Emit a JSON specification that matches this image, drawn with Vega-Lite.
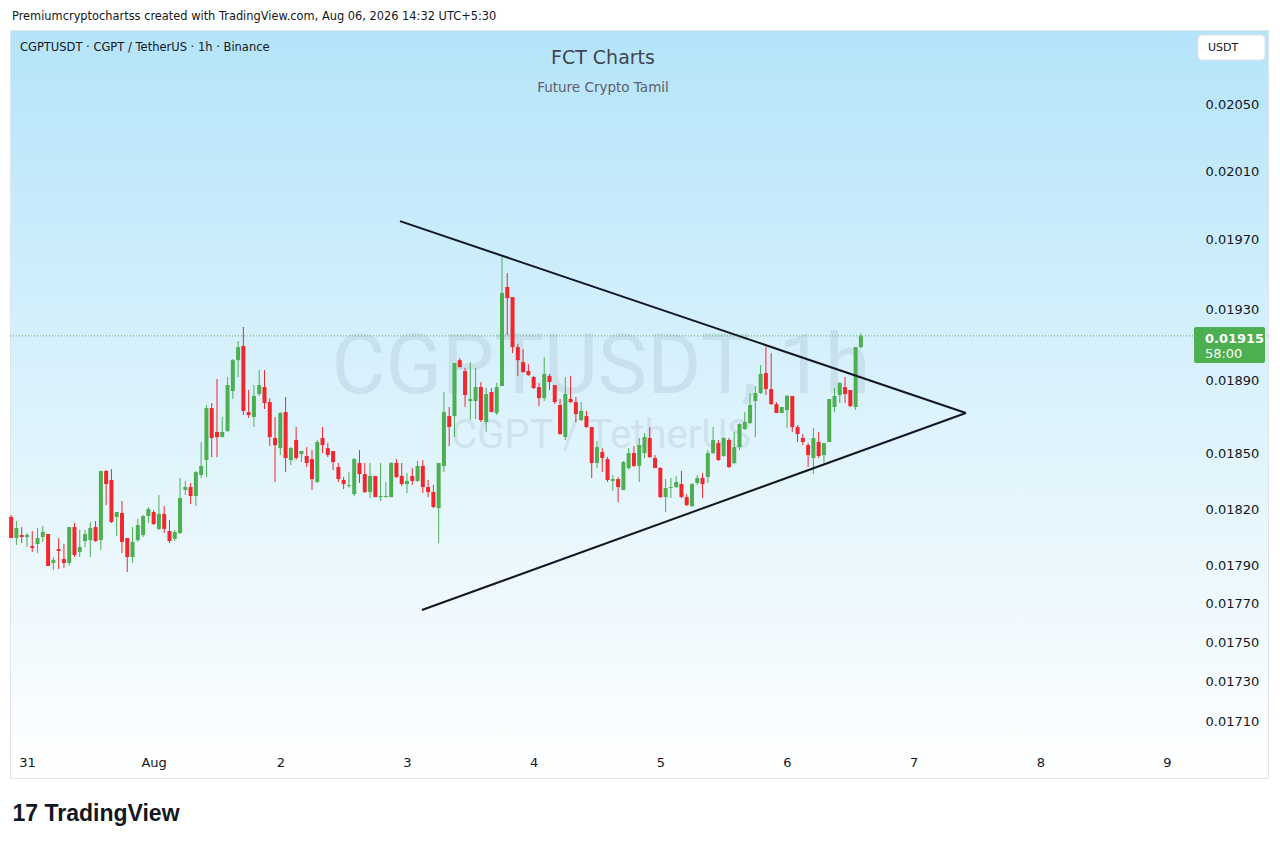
{
  "$schema": "https://vega.github.io/schema/vega-lite/v6.json",
  "description": "CGPTUSDT 1h candles with a symmetrical triangle, TradingView style.",
  "width": 1258,
  "height": 748,
  "autosize": "none",
  "padding": {"left": 10, "top": 30, "right": 12, "bottom": 67},
  "background": "#ffffff",
  "config": {
    "font": "DejaVu Sans",
    "view": {
      "stroke": "#e0e3eb",
      "strokeWidth": 1,
      "fill": {
        "gradient": "linear", "x1": 0, "y1": 0, "x2": 0, "y2": 1,
        "stops": [
          {"offset": 0, "color": "#b4e4fa"},
          {"offset": 0.45, "color": "#d8f1fc"},
          {"offset": 1, "color": "#ffffff"}
        ]
      }
    },
    "axis": {
      "ticks": false, "tickSize": 0, "domain": false, "grid": false,
      "labelFont": "DejaVu Sans", "labelFontSize": 13, "labelColor": "#131722",
      "labelOverlap": false, "labelFlush": false
    }
  },
  "title": {
    "text": "Premiumcryptochartss created with TradingView.com, Aug 06, 2026 14:32 UTC+5:30",
    "anchor": "start",
    "frame": "group",
    "offset": 8,
    "dx": 2,
    "font": "DejaVu Sans",
    "fontSize": 11.4,
    "fontWeight": "normal",
    "color": "#131722"
  },
  "datasets": {
    "candles": [
      {"t": "2026-07-30T21:00", "o": 0.018158, "h": 0.018168, "l": 0.018046, "c": 0.018046},
      {"t": "2026-07-30T22:00", "o": 0.018046, "h": 0.018136, "l": 0.018009, "c": 0.018099},
      {"t": "2026-07-30T23:00", "o": 0.018062, "h": 0.018104, "l": 0.018019, "c": 0.018051},
      {"t": "2026-07-31T00:00", "o": 0.018051, "h": 0.018072, "l": 0.017998, "c": 0.018062},
      {"t": "2026-07-31T01:00", "o": 0.018003, "h": 0.018083, "l": 0.017972, "c": 0.017993},
      {"t": "2026-07-31T02:00", "o": 0.018014, "h": 0.018099, "l": 0.017966, "c": 0.018046},
      {"t": "2026-07-31T03:00", "o": 0.018051, "h": 0.018110, "l": 0.018025, "c": 0.018078},
      {"t": "2026-07-31T04:00", "o": 0.018067, "h": 0.018067, "l": 0.017898, "c": 0.017898},
      {"t": "2026-07-31T05:00", "o": 0.017914, "h": 0.017945, "l": 0.017877, "c": 0.017930},
      {"t": "2026-07-31T06:00", "o": 0.017987, "h": 0.018046, "l": 0.017882, "c": 0.017977},
      {"t": "2026-07-31T07:00", "o": 0.017935, "h": 0.018014, "l": 0.017888, "c": 0.017914},
      {"t": "2026-07-31T08:00", "o": 0.017914, "h": 0.018104, "l": 0.017898, "c": 0.018104},
      {"t": "2026-07-31T09:00", "o": 0.018104, "h": 0.018126, "l": 0.017945, "c": 0.017956},
      {"t": "2026-07-31T10:00", "o": 0.017972, "h": 0.018088, "l": 0.017945, "c": 0.017998},
      {"t": "2026-07-31T11:00", "o": 0.018030, "h": 0.018088, "l": 0.017998, "c": 0.018067},
      {"t": "2026-07-31T12:00", "o": 0.018035, "h": 0.018131, "l": 0.017945, "c": 0.018099},
      {"t": "2026-07-31T13:00", "o": 0.018104, "h": 0.018136, "l": 0.018025, "c": 0.018030},
      {"t": "2026-07-31T14:00", "o": 0.018035, "h": 0.018405, "l": 0.017982, "c": 0.018405},
      {"t": "2026-07-31T15:00", "o": 0.018405, "h": 0.018410, "l": 0.018221, "c": 0.018334},
      {"t": "2026-07-31T16:00", "o": 0.018356, "h": 0.018415, "l": 0.018126, "c": 0.018131},
      {"t": "2026-07-31T17:00", "o": 0.018158, "h": 0.018184, "l": 0.018056, "c": 0.018184},
      {"t": "2026-07-31T18:00", "o": 0.018179, "h": 0.018243, "l": 0.017966, "c": 0.018025},
      {"t": "2026-07-31T19:00", "o": 0.018046, "h": 0.018046, "l": 0.017867, "c": 0.017945},
      {"t": "2026-07-31T20:00", "o": 0.017945, "h": 0.018104, "l": 0.017914, "c": 0.018025},
      {"t": "2026-07-31T21:00", "o": 0.018035, "h": 0.018147, "l": 0.018025, "c": 0.018115},
      {"t": "2026-07-31T22:00", "o": 0.018062, "h": 0.018168, "l": 0.018051, "c": 0.018163},
      {"t": "2026-07-31T23:00", "o": 0.018163, "h": 0.018211, "l": 0.018126, "c": 0.018200},
      {"t": "2026-08-01T00:00", "o": 0.018184, "h": 0.018195, "l": 0.018115, "c": 0.018120},
      {"t": "2026-08-01T01:00", "o": 0.018094, "h": 0.018275, "l": 0.018088, "c": 0.018174},
      {"t": "2026-08-01T02:00", "o": 0.018174, "h": 0.018216, "l": 0.018072, "c": 0.018094},
      {"t": "2026-08-01T03:00", "o": 0.018083, "h": 0.018142, "l": 0.018019, "c": 0.018030},
      {"t": "2026-08-01T04:00", "o": 0.018041, "h": 0.018088, "l": 0.018030, "c": 0.018078},
      {"t": "2026-08-01T05:00", "o": 0.018072, "h": 0.018367, "l": 0.018067, "c": 0.018259},
      {"t": "2026-08-01T06:00", "o": 0.018302, "h": 0.018351, "l": 0.018275, "c": 0.018318},
      {"t": "2026-08-01T07:00", "o": 0.018318, "h": 0.018340, "l": 0.018227, "c": 0.018270},
      {"t": "2026-08-01T08:00", "o": 0.018270, "h": 0.018405, "l": 0.018216, "c": 0.018399},
      {"t": "2026-08-01T09:00", "o": 0.018383, "h": 0.018562, "l": 0.018367, "c": 0.018432},
      {"t": "2026-08-01T10:00", "o": 0.018464, "h": 0.018765, "l": 0.018372, "c": 0.018748},
      {"t": "2026-08-01T11:00", "o": 0.018748, "h": 0.018776, "l": 0.018480, "c": 0.018584},
      {"t": "2026-08-01T12:00", "o": 0.018617, "h": 0.018909, "l": 0.018480, "c": 0.018589},
      {"t": "2026-08-01T13:00", "o": 0.018589, "h": 0.018699, "l": 0.018589, "c": 0.018617},
      {"t": "2026-08-01T14:00", "o": 0.018622, "h": 0.018920, "l": 0.018617, "c": 0.018875},
      {"t": "2026-08-01T15:00", "o": 0.018842, "h": 0.019020, "l": 0.018798, "c": 0.019014},
      {"t": "2026-08-01T16:00", "o": 0.019014, "h": 0.019121, "l": 0.018920, "c": 0.019087},
      {"t": "2026-08-01T17:00", "o": 0.019093, "h": 0.019200, "l": 0.018710, "c": 0.018732},
      {"t": "2026-08-01T18:00", "o": 0.018726, "h": 0.018848, "l": 0.018693, "c": 0.018710},
      {"t": "2026-08-01T19:00", "o": 0.018699, "h": 0.018875, "l": 0.018644, "c": 0.018815},
      {"t": "2026-08-01T20:00", "o": 0.018826, "h": 0.018959, "l": 0.018815, "c": 0.018875},
      {"t": "2026-08-01T21:00", "o": 0.018864, "h": 0.018959, "l": 0.018743, "c": 0.018776},
      {"t": "2026-08-01T22:00", "o": 0.018781, "h": 0.018803, "l": 0.018540, "c": 0.018589},
      {"t": "2026-08-01T23:00", "o": 0.018584, "h": 0.018699, "l": 0.018345, "c": 0.018545},
      {"t": "2026-08-02T00:00", "o": 0.018529, "h": 0.018726, "l": 0.018491, "c": 0.018721},
      {"t": "2026-08-02T01:00", "o": 0.018726, "h": 0.018809, "l": 0.018399, "c": 0.018475},
      {"t": "2026-08-02T02:00", "o": 0.018464, "h": 0.018534, "l": 0.018437, "c": 0.018529},
      {"t": "2026-08-02T03:00", "o": 0.018573, "h": 0.018644, "l": 0.018464, "c": 0.018475},
      {"t": "2026-08-02T04:00", "o": 0.018496, "h": 0.018513, "l": 0.018453, "c": 0.018513},
      {"t": "2026-08-02T05:00", "o": 0.018486, "h": 0.018534, "l": 0.018426, "c": 0.018448},
      {"t": "2026-08-02T06:00", "o": 0.018469, "h": 0.018518, "l": 0.018302, "c": 0.018361},
      {"t": "2026-08-02T07:00", "o": 0.018345, "h": 0.018573, "l": 0.018340, "c": 0.018562},
      {"t": "2026-08-02T08:00", "o": 0.018584, "h": 0.018644, "l": 0.018502, "c": 0.018545},
      {"t": "2026-08-02T09:00", "o": 0.018529, "h": 0.018556, "l": 0.018480, "c": 0.018491},
      {"t": "2026-08-02T10:00", "o": 0.018513, "h": 0.018513, "l": 0.018410, "c": 0.018453},
      {"t": "2026-08-02T11:00", "o": 0.018426, "h": 0.018448, "l": 0.018345, "c": 0.018361},
      {"t": "2026-08-02T12:00", "o": 0.018356, "h": 0.018372, "l": 0.018307, "c": 0.018334},
      {"t": "2026-08-02T13:00", "o": 0.018324, "h": 0.018399, "l": 0.018313, "c": 0.018329},
      {"t": "2026-08-02T14:00", "o": 0.018280, "h": 0.018475, "l": 0.018270, "c": 0.018469},
      {"t": "2026-08-02T15:00", "o": 0.018448, "h": 0.018518, "l": 0.018340, "c": 0.018388},
      {"t": "2026-08-02T16:00", "o": 0.018388, "h": 0.018448, "l": 0.018286, "c": 0.018291},
      {"t": "2026-08-02T17:00", "o": 0.018291, "h": 0.018448, "l": 0.018259, "c": 0.018378},
      {"t": "2026-08-02T18:00", "o": 0.018378, "h": 0.018378, "l": 0.018264, "c": 0.018264},
      {"t": "2026-08-02T19:00", "o": 0.018264, "h": 0.018448, "l": 0.018243, "c": 0.018270},
      {"t": "2026-08-02T20:00", "o": 0.018264, "h": 0.018345, "l": 0.018264, "c": 0.018270},
      {"t": "2026-08-02T21:00", "o": 0.018264, "h": 0.018453, "l": 0.018264, "c": 0.018448},
      {"t": "2026-08-02T22:00", "o": 0.018448, "h": 0.018469, "l": 0.018367, "c": 0.018372},
      {"t": "2026-08-02T23:00", "o": 0.018378, "h": 0.018448, "l": 0.018324, "c": 0.018334},
      {"t": "2026-08-03T00:00", "o": 0.018334, "h": 0.018394, "l": 0.018286, "c": 0.018351},
      {"t": "2026-08-03T01:00", "o": 0.018378, "h": 0.018421, "l": 0.018329, "c": 0.018351},
      {"t": "2026-08-03T02:00", "o": 0.018351, "h": 0.018459, "l": 0.018345, "c": 0.018432},
      {"t": "2026-08-03T03:00", "o": 0.018432, "h": 0.018464, "l": 0.018286, "c": 0.018318},
      {"t": "2026-08-03T04:00", "o": 0.018318, "h": 0.018356, "l": 0.018264, "c": 0.018291},
      {"t": "2026-08-03T05:00", "o": 0.018291, "h": 0.018329, "l": 0.018205, "c": 0.018211},
      {"t": "2026-08-03T06:00", "o": 0.018205, "h": 0.018448, "l": 0.018019, "c": 0.018448},
      {"t": "2026-08-03T07:00", "o": 0.018432, "h": 0.018837, "l": 0.018399, "c": 0.018726},
      {"t": "2026-08-03T08:00", "o": 0.018704, "h": 0.018754, "l": 0.018540, "c": 0.018644},
      {"t": "2026-08-03T09:00", "o": 0.018704, "h": 0.018998, "l": 0.018589, "c": 0.018998},
      {"t": "2026-08-03T10:00", "o": 0.019014, "h": 0.019025, "l": 0.018975, "c": 0.018975},
      {"t": "2026-08-03T11:00", "o": 0.018953, "h": 0.018970, "l": 0.018754, "c": 0.018820},
      {"t": "2026-08-03T12:00", "o": 0.018787, "h": 0.019003, "l": 0.018682, "c": 0.018798},
      {"t": "2026-08-03T13:00", "o": 0.018787, "h": 0.018970, "l": 0.018688, "c": 0.018864},
      {"t": "2026-08-03T14:00", "o": 0.018864, "h": 0.018892, "l": 0.018671, "c": 0.018682},
      {"t": "2026-08-03T15:00", "o": 0.018671, "h": 0.018859, "l": 0.018617, "c": 0.018826},
      {"t": "2026-08-03T16:00", "o": 0.018837, "h": 0.018859, "l": 0.018726, "c": 0.018726},
      {"t": "2026-08-03T17:00", "o": 0.018721, "h": 0.018887, "l": 0.018710, "c": 0.018864},
      {"t": "2026-08-03T18:00", "o": 0.018870, "h": 0.019599, "l": 0.018870, "c": 0.019393},
      {"t": "2026-08-03T19:00", "o": 0.019427, "h": 0.019507, "l": 0.019155, "c": 0.019364},
      {"t": "2026-08-03T20:00", "o": 0.019370, "h": 0.019370, "l": 0.019053, "c": 0.019087},
      {"t": "2026-08-03T21:00", "o": 0.019087, "h": 0.019104, "l": 0.018926, "c": 0.019014},
      {"t": "2026-08-03T22:00", "o": 0.019003, "h": 0.019076, "l": 0.018942, "c": 0.018948},
      {"t": "2026-08-03T23:00", "o": 0.018953, "h": 0.018992, "l": 0.018926, "c": 0.018931},
      {"t": "2026-08-04T00:00", "o": 0.018920, "h": 0.018926, "l": 0.018853, "c": 0.018859},
      {"t": "2026-08-04T01:00", "o": 0.018864, "h": 0.018887, "l": 0.018759, "c": 0.018803},
      {"t": "2026-08-04T02:00", "o": 0.018803, "h": 0.019031, "l": 0.018787, "c": 0.018937},
      {"t": "2026-08-04T03:00", "o": 0.018926, "h": 0.018937, "l": 0.018848, "c": 0.018892},
      {"t": "2026-08-04T04:00", "o": 0.018875, "h": 0.018875, "l": 0.018770, "c": 0.018781},
      {"t": "2026-08-04T05:00", "o": 0.018765, "h": 0.018798, "l": 0.018600, "c": 0.018606},
      {"t": "2026-08-04T06:00", "o": 0.018589, "h": 0.018920, "l": 0.018573, "c": 0.018826},
      {"t": "2026-08-04T07:00", "o": 0.018798, "h": 0.018926, "l": 0.018776, "c": 0.018781},
      {"t": "2026-08-04T08:00", "o": 0.018781, "h": 0.018809, "l": 0.018671, "c": 0.018715},
      {"t": "2026-08-04T09:00", "o": 0.018682, "h": 0.018781, "l": 0.018677, "c": 0.018732},
      {"t": "2026-08-04T10:00", "o": 0.018704, "h": 0.018732, "l": 0.018639, "c": 0.018644},
      {"t": "2026-08-04T11:00", "o": 0.018644, "h": 0.018644, "l": 0.018367, "c": 0.018448},
      {"t": "2026-08-04T12:00", "o": 0.018448, "h": 0.018567, "l": 0.018421, "c": 0.018534},
      {"t": "2026-08-04T13:00", "o": 0.018507, "h": 0.018529, "l": 0.018399, "c": 0.018475},
      {"t": "2026-08-04T14:00", "o": 0.018469, "h": 0.018480, "l": 0.018345, "c": 0.018356},
      {"t": "2026-08-04T15:00", "o": 0.018351, "h": 0.018383, "l": 0.018297, "c": 0.018361},
      {"t": "2026-08-04T16:00", "o": 0.018361, "h": 0.018372, "l": 0.018237, "c": 0.018318},
      {"t": "2026-08-04T17:00", "o": 0.018302, "h": 0.018459, "l": 0.018302, "c": 0.018453},
      {"t": "2026-08-04T18:00", "o": 0.018421, "h": 0.018529, "l": 0.018410, "c": 0.018502},
      {"t": "2026-08-04T19:00", "o": 0.018502, "h": 0.018540, "l": 0.018426, "c": 0.018432},
      {"t": "2026-08-04T20:00", "o": 0.018432, "h": 0.018584, "l": 0.018345, "c": 0.018545},
      {"t": "2026-08-04T21:00", "o": 0.018502, "h": 0.018611, "l": 0.018475, "c": 0.018589},
      {"t": "2026-08-04T22:00", "o": 0.018584, "h": 0.018644, "l": 0.018475, "c": 0.018480},
      {"t": "2026-08-04T23:00", "o": 0.018475, "h": 0.018491, "l": 0.018421, "c": 0.018421},
      {"t": "2026-08-05T00:00", "o": 0.018421, "h": 0.018426, "l": 0.018259, "c": 0.018264},
      {"t": "2026-08-05T01:00", "o": 0.018264, "h": 0.018361, "l": 0.018184, "c": 0.018313},
      {"t": "2026-08-05T02:00", "o": 0.018313, "h": 0.018367, "l": 0.018259, "c": 0.018318},
      {"t": "2026-08-05T03:00", "o": 0.018318, "h": 0.018378, "l": 0.018313, "c": 0.018345},
      {"t": "2026-08-05T04:00", "o": 0.018334, "h": 0.018405, "l": 0.018259, "c": 0.018264},
      {"t": "2026-08-05T05:00", "o": 0.018264, "h": 0.018280, "l": 0.018216, "c": 0.018221},
      {"t": "2026-08-05T06:00", "o": 0.018216, "h": 0.018340, "l": 0.018211, "c": 0.018334},
      {"t": "2026-08-05T07:00", "o": 0.018340, "h": 0.018383, "l": 0.018329, "c": 0.018367},
      {"t": "2026-08-05T08:00", "o": 0.018367, "h": 0.018394, "l": 0.018259, "c": 0.018334},
      {"t": "2026-08-05T09:00", "o": 0.018372, "h": 0.018518, "l": 0.018340, "c": 0.018502},
      {"t": "2026-08-05T10:00", "o": 0.018502, "h": 0.018644, "l": 0.018496, "c": 0.018573},
      {"t": "2026-08-05T11:00", "o": 0.018556, "h": 0.018573, "l": 0.018459, "c": 0.018464},
      {"t": "2026-08-05T12:00", "o": 0.018486, "h": 0.018589, "l": 0.018480, "c": 0.018584},
      {"t": "2026-08-05T13:00", "o": 0.018573, "h": 0.018584, "l": 0.018421, "c": 0.018426},
      {"t": "2026-08-05T14:00", "o": 0.018448, "h": 0.018617, "l": 0.018442, "c": 0.018534},
      {"t": "2026-08-05T15:00", "o": 0.018534, "h": 0.018666, "l": 0.018518, "c": 0.018660},
      {"t": "2026-08-05T16:00", "o": 0.018633, "h": 0.018726, "l": 0.018628, "c": 0.018671},
      {"t": "2026-08-05T17:00", "o": 0.018666, "h": 0.018831, "l": 0.018660, "c": 0.018765},
      {"t": "2026-08-05T18:00", "o": 0.018787, "h": 0.018870, "l": 0.018589, "c": 0.018831},
      {"t": "2026-08-05T19:00", "o": 0.018831, "h": 0.018987, "l": 0.018826, "c": 0.018937},
      {"t": "2026-08-05T20:00", "o": 0.018942, "h": 0.019087, "l": 0.018820, "c": 0.018853},
      {"t": "2026-08-05T21:00", "o": 0.018853, "h": 0.019053, "l": 0.018765, "c": 0.018770},
      {"t": "2026-08-05T22:00", "o": 0.018770, "h": 0.018781, "l": 0.018721, "c": 0.018721},
      {"t": "2026-08-05T23:00", "o": 0.018721, "h": 0.018754, "l": 0.018721, "c": 0.018754},
      {"t": "2026-08-06T00:00", "o": 0.018737, "h": 0.018820, "l": 0.018639, "c": 0.018815},
      {"t": "2026-08-06T01:00", "o": 0.018815, "h": 0.018815, "l": 0.018617, "c": 0.018644},
      {"t": "2026-08-06T02:00", "o": 0.018644, "h": 0.018655, "l": 0.018562, "c": 0.018606},
      {"t": "2026-08-06T03:00", "o": 0.018584, "h": 0.018606, "l": 0.018545, "c": 0.018562},
      {"t": "2026-08-06T04:00", "o": 0.018545, "h": 0.018556, "l": 0.018426, "c": 0.018491},
      {"t": "2026-08-06T05:00", "o": 0.018475, "h": 0.018639, "l": 0.018388, "c": 0.018584},
      {"t": "2026-08-06T06:00", "o": 0.018562, "h": 0.018617, "l": 0.018475, "c": 0.018486},
      {"t": "2026-08-06T07:00", "o": 0.018491, "h": 0.018556, "l": 0.018448, "c": 0.018556},
      {"t": "2026-08-06T08:00", "o": 0.018562, "h": 0.018798, "l": 0.018562, "c": 0.018798},
      {"t": "2026-08-06T09:00", "o": 0.018754, "h": 0.018859, "l": 0.018726, "c": 0.018815},
      {"t": "2026-08-06T10:00", "o": 0.018820, "h": 0.018892, "l": 0.018776, "c": 0.018887},
      {"t": "2026-08-06T11:00", "o": 0.018864, "h": 0.018920, "l": 0.018776, "c": 0.018826},
      {"t": "2026-08-06T12:00", "o": 0.018848, "h": 0.018848, "l": 0.018754, "c": 0.018759},
      {"t": "2026-08-06T13:00", "o": 0.018754, "h": 0.019087, "l": 0.018737, "c": 0.019087},
      {"t": "2026-08-06T14:00", "o": 0.019087, "h": 0.019166, "l": 0.019081, "c": 0.019150}
    ],
    "trend": [
      {"seg": "upper", "t": "2026-08-02T22:40", "p": 0.019807},
      {"seg": "upper", "t": "2026-08-07T09:54", "p": 0.018721},
      {"seg": "lower", "t": "2026-08-03T02:50", "p": 0.017668},
      {"seg": "lower", "t": "2026-08-07T09:54", "p": 0.018721}
    ]
  },
  "layer": [
    {
      "data": {"values": [{}]},
      "mark": {"type": "text", "text": "CGPTUSDT, 1h", "font": "Roboto", "fontSize": 83, "align": "center", "baseline": "alphabetic", "fill": "#8fa3b6", "opacity": 0.2},
      "encoding": {
        "x": {"datum": {"year": 2026, "month": 8, "date": 4, "hours": 12, "minutes": 45}, "type": "temporal"},
        "y": {"datum": 0.018831, "type": "quantitative"}
      }
    },
    {
      "data": {"values": [{}]},
      "mark": {"type": "text", "text": "CGPT / TetherUS", "font": "Roboto", "fontSize": 40, "align": "center", "baseline": "alphabetic", "fill": "#8fa3b6", "opacity": 0.2},
      "encoding": {
        "x": {"datum": {"year": 2026, "month": 8, "date": 4, "hours": 12, "minutes": 45}, "type": "temporal"},
        "y": {"datum": 0.018529, "type": "quantitative"}
      }
    },
    {
      "data": {"values": [{}]},
      "mark": {"type": "rule", "color": "#4caf50", "strokeWidth": 1, "strokeDash": [1, 2]},
      "encoding": {
        "y": {"datum": 0.01915, "type": "quantitative"}
      }
    },
    {
      "data": {"name": "candles"},
      "mark": {"type": "rule", "strokeWidth": 1},
      "encoding": {
        "x": {
          "field": "t", "type": "temporal",
          "scale": {"domain": [{"year": 2026, "month": 7, "date": 30, "hours": 20, "minutes": 47}, {"year": 2026, "month": 8, "date": 9, "hours": 19, "minutes": 8}], "nice": false, "padding": 0},
          "axis": {
            "orient": "bottom", "offset": -30,
            "values": [
              {"year": 2026, "month": 7, "date": 31}, {"year": 2026, "month": 8, "date": 1},
              {"year": 2026, "month": 8, "date": 2}, {"year": 2026, "month": 8, "date": 3},
              {"year": 2026, "month": 8, "date": 4}, {"year": 2026, "month": 8, "date": 5},
              {"year": 2026, "month": 8, "date": 6}, {"year": 2026, "month": 8, "date": 7},
              {"year": 2026, "month": 8, "date": 8}, {"year": 2026, "month": 8, "date": 9}
            ],
            "labelExpr": "date(datum.value) == 1 ? timeFormat(datum.value, '%b') : '' + date(datum.value)",
            "labelPadding": 8,
            "title": "17 TradingView", "titleX": 2, "titleY": 72, "titleAlign": "left", "titleAnchor": "start",
            "titleBaseline": "alphabetic", "titleFont": "Liberation Sans", "titleFontSize": 23, "titleFontWeight": "bold", "titleColor": "#131722"
          }
        },
        "y": {
          "field": "l", "type": "quantitative",
          "scale": {"type": "log", "domain": [0.016817, 0.020951], "nice": false, "zero": false, "padding": 0},
          "axis": {
            "orient": "right", "offset": -78,
            "values": [0.0171, 0.0173, 0.0175, 0.0177, 0.0179, 0.0182, 0.0185, 0.0189, 0.0193, 0.0197, 0.0201, 0.0205],
            "format": ".5f", "labelAlign": "left", "labelBaseline": "middle", "labelPadding": 15,
            "title": null
          }
        },
        "y2": {"field": "h"},
        "color": {"condition": {"test": "datum.c >= datum.o", "value": "#4caf50"}, "value": "#f2262d"}
      }
    },
    {
      "data": {"name": "candles"},
      "mark": {"type": "bar", "size": 4},
      "encoding": {
        "x": {"field": "t", "type": "temporal"},
        "y": {"field": "o", "type": "quantitative"},
        "y2": {"field": "c"},
        "color": {"condition": {"test": "datum.c >= datum.o", "value": "#4caf50"}, "value": "#f2262d"}
      }
    },
    {
      "data": {"name": "trend"},
      "mark": {"type": "line", "color": "#131722", "strokeWidth": 2},
      "encoding": {
        "x": {"field": "t", "type": "temporal"},
        "y": {"field": "p", "type": "quantitative"},
        "detail": {"field": "seg"}
      }
    },
    {
      "data": {"values": [{}]},
      "mark": {"type": "text", "text": "FCT Charts", "font": "DejaVu Sans", "fontSize": 19, "align": "center", "baseline": "alphabetic", "fill": "#434651"},
      "encoding": {
        "x": {"datum": {"year": 2026, "month": 8, "date": 4, "hours": 13, "minutes": 8}, "type": "temporal"},
        "y": {"datum": 0.020742, "type": "quantitative"}
      }
    },
    {
      "data": {"values": [{}]},
      "mark": {"type": "text", "text": "Future Crypto Tamil", "font": "DejaVu Sans", "fontSize": 13.5, "align": "center", "baseline": "alphabetic", "fill": "#5d606b"},
      "encoding": {
        "x": {"datum": {"year": 2026, "month": 8, "date": 4, "hours": 13, "minutes": 8}, "type": "temporal"},
        "y": {"datum": 0.020572, "type": "quantitative"}
      }
    },
    {
      "data": {"values": [{}]},
      "mark": {"type": "text", "text": "CGPTUSDT · CGPT / TetherUS · 1h · Binance", "font": "DejaVu Sans", "fontSize": 11.5, "align": "left", "baseline": "alphabetic", "fill": "#131722"},
      "encoding": {
        "x": {"datum": {"year": 2026, "month": 7, "date": 30, "hours": 22, "minutes": 40}, "type": "temporal"},
        "y": {"datum": 0.020822, "type": "quantitative"}
      }
    },
    {
      "data": {"values": [{}]},
      "mark": {"type": "rect", "fill": "#ffffff", "stroke": "#e0e3eb", "strokeWidth": 1, "cornerRadius": 4},
      "encoding": {
        "x": {"datum": {"year": 2026, "month": 8, "date": 9, "hours": 5, "minutes": 52}, "type": "temporal"},
        "x2": {"datum": {"year": 2026, "month": 8, "date": 9, "hours": 18, "minutes": 34}},
        "y": {"datum": 0.02092, "type": "quantitative"},
        "y2": {"datum": 0.020767}
      }
    },
    {
      "data": {"values": [{}]},
      "mark": {"type": "text", "text": "USDT", "font": "DejaVu Sans", "fontSize": 11, "align": "left", "baseline": "alphabetic", "fill": "#131722"},
      "encoding": {
        "x": {"datum": {"year": 2026, "month": 8, "date": 9, "hours": 7, "minutes": 46}, "type": "temporal"},
        "y": {"datum": 0.020822, "type": "quantitative"}
      }
    },
    {
      "data": {"values": [{}]},
      "mark": {"type": "rect", "fill": "#4caf50", "cornerRadius": 2},
      "encoding": {
        "x": {"datum": {"year": 2026, "month": 8, "date": 9, "hours": 5, "minutes": 7}, "type": "temporal"},
        "x2": {"datum": {"year": 2026, "month": 8, "date": 9, "hours": 18, "minutes": 34}},
        "y": {"datum": 0.0192, "type": "quantitative"},
        "y2": {"datum": 0.018998}
      }
    },
    {
      "data": {"values": [{}]},
      "mark": {"type": "text", "text": "0.01915", "font": "DejaVu Sans", "fontSize": 13, "fontWeight": "bold", "align": "left", "baseline": "alphabetic", "fill": "#ffffff"},
      "encoding": {
        "x": {"datum": {"year": 2026, "month": 8, "date": 9, "hours": 7, "minutes": 11}, "type": "temporal"},
        "y": {"datum": 0.01911, "type": "quantitative"}
      }
    },
    {
      "data": {"values": [{}]},
      "mark": {"type": "text", "text": "58:00", "font": "DejaVu Sans", "fontSize": 13, "align": "left", "baseline": "alphabetic", "fill": "#ffffff"},
      "encoding": {
        "x": {"datum": {"year": 2026, "month": 8, "date": 9, "hours": 7, "minutes": 11}, "type": "temporal"},
        "y": {"datum": 0.019026, "type": "quantitative"}
      }
    }
  ]
}
